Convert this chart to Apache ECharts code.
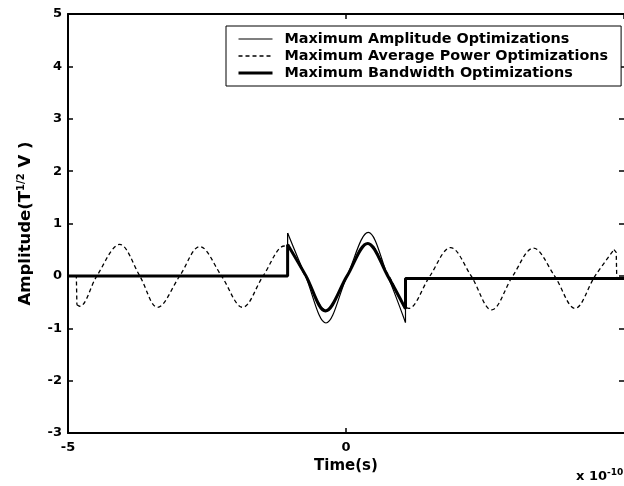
<!DOCTYPE html>
<html>
<head>
<meta charset="utf-8">
<script src="https://cdn.jsdelivr.net/npm/echarts@6/dist/echarts.min.js"></script>
<style>
  html, body { margin: 0; padding: 0; background: #fff; }
  #main { width: 624px; height: 486px; }
</style>
</head>
<body>
<div id="main"></div>
<script>
// axis range (time in units of 1e-10 s)
var xMin = -5, xMax = 5, xStep = 5;
var yMin = -3, yMax = 5, yStep = 1;

var legendNames = ['Maximum Amplitude Optimizations', 'Maximum Average Power Optimizations', 'Maximum Bandwidth Optimizations'];

// Maximum Amplitude Optimizations (thin solid)
var ampT = [-5, -1.05, -1.05, -0.73, -0.36, 0.02, 0.40, 0.75, 1.07, 1.07, 5];
var ampV = [0, 0, 0.82, 0, -0.90, 0, 0.83, 0, -0.89, -0.05, -0.05];

// Maximum Average Power Optimizations (dashed)
var powT = [-5, -4.85, -4.84, -4.79, -4.48, -4.07, -3.71, -3.39, -2.99, -2.63, -2.24, -1.86, -1.49,
            -1.11, -0.73, -0.36, 0.02, 0.40, 0.77, 1.13, 1.51, 1.88, 2.25, 2.62, 3.00, 3.37, 3.75,
            4.12, 4.48, 4.82, 4.86, 4.87, 5];
var powV = [0, 0, -0.55, -0.58, 0, 0.60, 0, -0.60, 0, 0.56, 0, -0.60, 0,
            0.57, 0, -0.65, 0, 0.62, 0, -0.62, 0, 0.54, 0, -0.65, 0, 0.53, 0,
            -0.62, 0, 0.50, 0.45, -0.05, -0.05];

// Maximum Bandwidth Optimizations (thick solid)
var bwT = [-5, -1.05, -1.05, -0.72, -0.37, 0.02, 0.39, 0.75, 1.07, 1.07, 5];
var bwV = [0, 0, 0.60, 0, -0.67, 0, 0.62, 0, -0.63, -0.05, -0.05];

function pairs(t, v, from, to) {
    var out = [];
    for (var i = from; i <= to; i++) out.push([t[i], v[i]]);
    return out;
}

// the steps are drawn straight, the wave between them smooth
function pieces(name, t, v, cuts, lineStyle) {
    var list = [];
    for (var k = 0; k < cuts.length - 1; k++) {
        list.push({
            name: name, type: 'line', symbol: 'none',
            smooth: k === 1 ? 0.36 : false,
            lineStyle: lineStyle,
            itemStyle: { color: '#000' },
            data: pairs(t, v, cuts[k], cuts[k + 1])
        });
    }
    return list;
}

var FONT = 'DejaVu Sans';
var chart = echarts.init(document.getElementById('main'));

var powStyle = { color: '#000', width: 1.3, type: [4, 3] };
var ampStyle = { color: '#000', width: 1.2 };
var bwStyle = { color: '#000', width: 3 };

var seriesList = []
    .concat(pieces(legendNames[1], powT, powV, [0, 2, 29, 32], powStyle))
    .concat(pieces(legendNames[0], ampT, ampV, [0, 2, 8, 10], ampStyle))
    .concat(pieces(legendNames[2], bwT, bwV, [0, 2, 8, 10], bwStyle));

var option = {
    backgroundColor: '#fff',
    animation: false,
    grid: { left: 68, top: 14, width: 558, height: 419 },
    legend: {
        orient: 'vertical',
        left: 226,
        top: 26,
        itemWidth: 34,
        itemHeight: 15,
        itemGap: 3,
        padding: [6, 13, 6, 11],
        borderColor: '#000',
        borderWidth: 1,
        backgroundColor: '#fff',
        itemStyle: { opacity: 0 },
        textStyle: { fontFamily: FONT, fontWeight: 'bold', fontSize: 14.4, color: '#000', padding: [0, 0, 0, 7] },
        data: [
            { name: legendNames[0], lineStyle: ampStyle },
            { name: legendNames[1], lineStyle: powStyle },
            { name: legendNames[2], lineStyle: bwStyle }
        ]
    },
    xAxis: [
        {
            type: 'value', min: xMin, max: xMax, interval: xStep, position: 'bottom',
            name: 'Time(s)', nameLocation: 'middle', nameGap: 24,
            nameTextStyle: { fontFamily: FONT, fontWeight: 'bold', fontSize: 15, color: '#000' },
            axisLine: { onZero: false, lineStyle: { color: '#000', width: 2 } },
            axisTick: { inside: true, length: 5, lineStyle: { color: '#000', width: 1.5 } },
            // the "5" sits past the right edge of the picture
            axisLabel: { margin: 8, fontFamily: FONT, fontWeight: 'bold', fontSize: 13, color: '#000',
                         showMaxLabel: false },
            splitLine: { show: false }
        },
        {
            type: 'value', min: xMin, max: xMax, interval: xStep, position: 'top',
            axisLine: { onZero: false, lineStyle: { color: '#000', width: 2 } },
            axisTick: { inside: true, length: 5, lineStyle: { color: '#000', width: 1.5 } },
            axisLabel: { show: false },
            splitLine: { show: false }
        }
    ],
    yAxis: [
        {
            type: 'value', min: yMin, max: yMax, interval: yStep, position: 'left',
            name: '{a|Amplitude(T}{s|1/2}{a| V )}', nameLocation: 'middle', nameGap: 33, nameRotate: 90,
            nameTextStyle: {
                rich: {
                    a: { fontFamily: FONT, fontWeight: 'bold', fontSize: 16.5, color: '#000' },
                    s: { fontFamily: FONT, fontWeight: 'bold', fontSize: 10, color: '#000', padding: [0, 0, 9, 0] }
                }
            },
            axisLine: { show: true, onZero: false, lineStyle: { color: '#000', width: 2 } },
            axisTick: { show: true, inside: true, length: 5, lineStyle: { color: '#000', width: 1.5 } },
            axisLabel: { margin: 6, fontFamily: FONT, fontWeight: 'bold', fontSize: 13, color: '#000' },
            splitLine: { show: false }
        },
        {
            type: 'value', min: yMin, max: yMax, interval: yStep, position: 'right',
            axisLine: { show: false, onZero: false },
            axisTick: { show: true, inside: true, length: 5, lineStyle: { color: '#000', width: 1.5 } },
            axisLabel: { show: false },
            splitLine: { show: false }
        }
    ],
    graphic: [
        {
            type: 'text', left: 576, top: 468,
            style: {
                text: '{b|x 10}{s|-10}',
                rich: {
                    b: { fontFamily: FONT, fontWeight: 'bold', fontSize: 13, fill: '#000' },
                    s: { fontFamily: FONT, fontWeight: 'bold', fontSize: 9, fill: '#000', padding: [0, 0, 9, 0] }
                }
            }
        }
    ],
    series: seriesList
};

chart.setOption(option);
</script>
</body>
</html>
